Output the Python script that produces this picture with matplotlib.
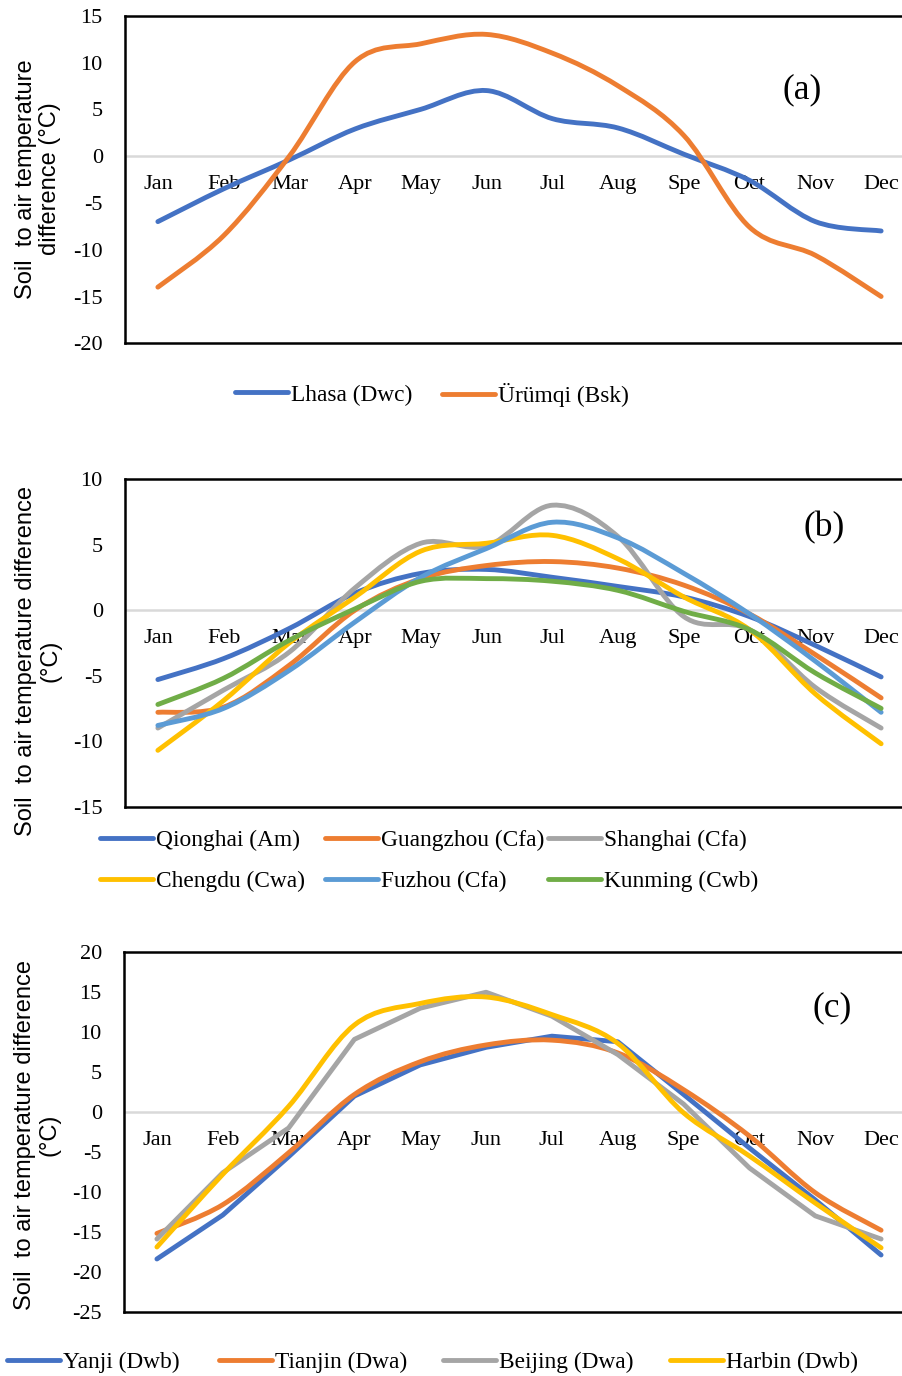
import numpy as np
import matplotlib
matplotlib.use("Agg")
import matplotlib.pyplot as plt
from matplotlib.path import Path
from matplotlib.patches import PathPatch
from matplotlib.transforms import offset_copy

plt.rcParams['font.family'] = ['Liberation Serif', 'DejaVu Sans']
plt.rcParams['axes.unicode_minus'] = False

# figure size in pixels
W, H = 902, 1376
FS = 16
LEG_FS = 16.8

months = ["Jan", "Feb", "Mar", "Apr", "May", "Jun", "Jul", "Aug", "Spe", "Oct", "Nov", "Dec"]

# panel (a)
lhasa = [-7, -3.5, -0.4, 2.9, 5.0, 7.0, 4.0, 3.0, 0.2, -2.6, -7.0, -8.0]
urumqi = [-14, -8.5, 0.0, 10.1, 12.0, 13.0, 11.0, 7.5, 2.2, -7.6, -10.6, -15.0]

# panel (b)
qionghai = [-5.3, -3.7, -1.4, 1.3, 2.8, 3.1, 2.5, 1.8, 1.0, -0.5, -2.7, -5.1]
guangzhou = [-7.8, -7.4, -4.2, 0.0, 2.4, 3.4, 3.7, 3.2, 1.9, -0.3, -3.4, -6.7]
shanghai = [-9.0, -6.1, -3.2, 1.7, 5.1, 4.9, 8.0, 5.6, -0.5, -1.5, -5.9, -9.0]
chengdu = [-10.7, -6.9, -2.5, 1.0, 4.5, 5.1, 5.7, 3.9, 1.0, -1.5, -6.4, -10.2]
fuzhou = [-8.8, -7.5, -4.6, -0.9, 2.5, 4.7, 6.7, 5.5, 2.8, -0.3, -3.9, -7.8]
kunming = [-7.2, -5.2, -2.3, 0.1, 2.2, 2.4, 2.2, 1.5, -0.1, -1.5, -4.8, -7.5]

# panel (c)
yanji = [-18.4, -12.9, -5.6, 2.0, 5.9, 8.1, 9.5, 8.8, 2.2, -4.5, -11.0, -17.9]
tianjin = [-15.2, -11.6, -5.1, 2.2, 6.3, 8.4, 9.0, 7.4, 2.8, -3.0, -10.1, -14.8]
beijing = [-15.9, -7.6, -2.0, 9.1, 13.0, 15.0, 12.0, 7.2, 1.0, -7.0, -13.0, -15.9]
harbin = [-16.9, -7.8, 0.7, 10.9, 13.6, 14.4, 12.2, 8.6, -0.1, -5.5, -11.4, -17.0]

BLUE, ORANGE, GRAY = "#4472C4", "#ED7D31", "#A5A5A5"
YELLOW, LBLUE, GREEN = "#FFC000", "#5B9BD5", "#70AD47"
LW = 3.5
YLABEL = "Soil  to air temperature difference"


def smooth_path(ys):
    # bezier segments through the points, like Excel's smoothed line
    xs = np.arange(len(ys), dtype=float)
    pts = np.column_stack([xs, np.asarray(ys, dtype=float)])
    n = len(pts)
    verts = [pts[0]]
    codes = [Path.MOVETO]
    for i in range(n - 1):
        p0 = pts[i - 1] if i > 0 else pts[i]
        p1, p2 = pts[i], pts[i + 1]
        p3 = pts[i + 2] if i + 2 < n else pts[i + 1]
        c1 = p1 + (p2 - p0) / 6.0
        c2 = p2 - (p3 - p1) / 6.0
        verts += [c1, c2, p2]
        codes += [Path.CURVE4] * 3
    return Path(verts, codes)


def add_series(ax, ys, color, label, smooth=True):
    if smooth:
        ax.add_patch(PathPatch(smooth_path(ys), fill=False, edgecolor=color, lw=LW,
                               capstyle='round', joinstyle='round', zorder=3))
        ax.plot([], [], color=color, lw=LW, solid_capstyle='round', label=label)
    else:
        ax.plot(range(len(ys)), ys, color=color, lw=LW, solid_capstyle='round',
                solid_joinstyle='round', label=label, zorder=3)


def make_axes(fig, top, bottom, left, ylim, step):
    right = 914
    ax = fig.add_axes([left / W, 1 - bottom / H, (right - left) / W, (bottom - top) / H])
    ax.set_xlim(-0.5, 11.5)
    ax.set_ylim(*ylim)
    ax.set_yticks(np.arange(ylim[0], ylim[1] + 1, step))
    ax.tick_params(axis='y', length=0, pad=16, labelsize=FS)
    ax.set_xticks([])
    for s in ax.spines.values():
        s.set_linewidth(1.8)
        s.set_color("black")
    ax.axhline(0, color="#D9D9D9", lw=1.8, zorder=1)
    tr = offset_copy(ax.transData, fig=fig, x=0, y=-28, units='dots')
    for i, m in enumerate(months):
        ax.text(i, 0, m, transform=tr, ha='center', va='center', fontsize=FS, zorder=2)
    return ax


def place_legend(fig, ax, spots):
    # one legend entry per spot, spot = (x of handle start, y centre) in pixels
    handles, labels = ax.get_legend_handles_labels()
    for hnd, lab, (x, y) in zip(handles, labels, spots):
        fig.legend([hnd], [lab], loc='center left', bbox_to_anchor=(x / W, 1 - y / H),
                   frameon=False, fontsize=LEG_FS, handlelength=2.25, handletextpad=0.15,
                   borderpad=0, borderaxespad=0)


def ylabel(fig, x, y, text):
    fig.text(x / W, 1 - y / H, text, rotation=90, ha='center', va='center',
             multialignment='center', fontsize=17, family=['Liberation Sans', 'DejaVu Sans'],
             linespacing=1.15)


fig = plt.figure(figsize=(W / 100, H / 100), dpi=100)

# (a)
ax1 = make_axes(fig, 15.7, 343.3, 125, (-20, 15), 5)
add_series(ax1, lhasa, BLUE, "Lhasa (Dwc)")
add_series(ax1, urumqi, ORANGE, "Ürümqi (Bsk)")
fig.text(802 / W, 1 - 90 / H, "(a)", ha='center', va='center', fontsize=25.5)
place_legend(fig, ax1, [(235, 395), (442, 395)])
ylabel(fig, 38, 179, "Soil  to air temperature\ndifference (°C)")

# (b)
ax2 = make_axes(fig, 479, 806.7, 125, (-15, 10), 5)
add_series(ax2, qionghai, BLUE, "Qionghai (Am)")
add_series(ax2, guangzhou, ORANGE, "Guangzhou (Cfa)")
add_series(ax2, shanghai, GRAY, "Shanghai (Cfa)")
add_series(ax2, chengdu, YELLOW, "Chengdu (Cwa)")
add_series(ax2, fuzhou, LBLUE, "Fuzhou (Cfa)")
add_series(ax2, kunming, GREEN, "Kunming (Cwb)")
fig.text(824 / W, 1 - 528 / H, "(b)", ha='center', va='center', fontsize=25.5)
place_legend(fig, ax2, [(100, 840), (325, 840), (548, 840),
                        (100, 881), (325, 881), (548, 881)])
ylabel(fig, 38, 661, YLABEL + "\n(°C)")

# (c)
ax3 = make_axes(fig, 952.3, 1311.7, 124, (-25, 20), 5)
add_series(ax3, yanji, BLUE, "Yanji (Dwb)", smooth=False)
add_series(ax3, tianjin, ORANGE, "Tianjin (Dwa)")
add_series(ax3, beijing, GRAY, "Beijing (Dwa)", smooth=False)
add_series(ax3, harbin, YELLOW, "Harbin (Dwb)")
fig.text(832 / W, 1 - 1008 / H, "(c)", ha='center', va='center', fontsize=25.5)
place_legend(fig, ax3, [(7, 1362), (219, 1362), (443, 1362), (670, 1362)])
ylabel(fig, 37, 1135, YLABEL + "\n(°C)")

fig.savefig("out.png", dpi=100)
